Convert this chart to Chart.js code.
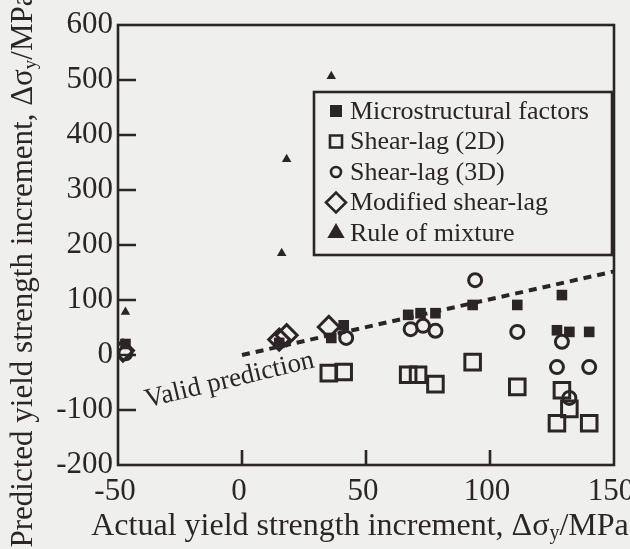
<!DOCTYPE html>
<html>
<head>
<meta charset="utf-8">
<script src="https://cdn.jsdelivr.net/npm/chart.js@4"></script>
<style>
  html, body { margin: 0; padding: 0; background: #efefed; }
  #wrap { width: 630px; height: 549px; }
</style>
</head>
<body>
<div id="wrap"><canvas id="wykres"></canvas></div>
<script>
// values (MPa)
const microX = [-47, 15, 36, 41, 67, 72, 78, 93, 111, 129, 127, 132, 140];
const microY = [20, 22, 31, 54, 73, 76, 76, 91, 91, 109, 45, 42, 42];
const shear2dX = [35, 41, 67, 71, 78, 93, 111, 129, 132, 127, 140];
const shear2dY = [-33, -31, -36, -36, -53, -13, -58, -64, -98, -124, -124];
const shear3dX = [-47, 42, 68, 73, 78, 94, 111, 129, 127, 140, 132];
const shear3dY = [3, 31, 47, 53, 44, 136, 42, 24, -22, -22, -78];
const modX = [-48, 15, 18, 35];
const modY = [8, 28, 36, 51];
const ruleX = [-47, 16, 18, 36];
const ruleY = [78, 185, 356, 507];
const validX = [0, 150];
const validY = [0, 152];

const xTicks = [-50, 0, 50, 100, 150];
const yTicks = [-200, -100, 0, 100, 200, 300, 400, 500, 600];

const ink = '#2b2527';
const serif = '"Liberation Serif", "DejaVu Serif", serif';

const pts = (xs, ys) => xs.map((x, i) => ({ x: x, y: ys[i] }));

// text with a subscript y after the sigma
function drawSubText(ctx, head, sub, tail, size) {
  ctx.font = size + 'px ' + serif;
  const w1 = ctx.measureText(head).width;
  const w3 = ctx.measureText(tail).width;
  ctx.font = Math.round(size * 0.62) + 'px ' + serif;
  const w2 = ctx.measureText(sub).width;
  let x = -(w1 + w2 + w3) / 2;
  ctx.textBaseline = 'alphabetic';
  ctx.textAlign = 'left';
  ctx.font = size + 'px ' + serif;
  ctx.fillText(head, x, 0);
  x += w1;
  ctx.font = Math.round(size * 0.62) + 'px ' + serif;
  ctx.fillText(sub, x, size * 0.12);
  x += w2;
  ctx.font = size + 'px ' + serif;
  ctx.fillText(tail, x, 0);
}

const decor = {
  id: 'decor',
  afterDraw(chart) {
    const ctx = chart.ctx;
    const a = chart.chartArea;
    const sx = chart.scales.x, sy = chart.scales.y;
    ctx.save();
    ctx.strokeStyle = ink;
    ctx.fillStyle = ink;
    ctx.lineWidth = 2.6;
    ctx.strokeRect(a.left, a.top, a.right - a.left, a.bottom - a.top);

    // inward tick marks
    ctx.beginPath();
    yTicks.slice(1, -1).forEach(v => {
      const py = sy.getPixelForValue(v);
      ctx.moveTo(a.left, py); ctx.lineTo(a.left + 18, py);
    });
    xTicks.slice(1, -1).forEach(v => {
      const px = sx.getPixelForValue(v);
      ctx.moveTo(px, a.bottom); ctx.lineTo(px, a.bottom - 15);
    });
    ctx.stroke();

    // axis titles
    ctx.save();
    ctx.translate(360, 535);
    drawSubText(ctx, 'Actual yield strength increment, \u0394\u03c3', 'y', '/MPa', 32);
    ctx.restore();
    ctx.save();
    ctx.translate(32, 270);
    ctx.rotate(-Math.PI / 2);
    drawSubText(ctx, 'Predicted yield strength increment, \u0394\u03c3', 'y', '/MPa', 31);
    ctx.restore();

    // "Valid prediction" label along the line
    ctx.save();
    ctx.translate(sx.getPixelForValue(-5), sy.getPixelForValue(-46));
    ctx.rotate(-13.5 * Math.PI / 180);
    ctx.font = '27px ' + serif;
    ctx.textAlign = 'center';
    ctx.textBaseline = 'middle';
    ctx.fillText('Valid prediction', 0, 0);
    ctx.restore();

    // legend box
    const lx = 314, ly = 92, lw = 298, lh = 163;
    ctx.fillStyle = '#efefed';
    ctx.fillRect(lx, ly, lw, lh);
    ctx.lineWidth = 2.6;
    ctx.strokeRect(lx, ly, lw, lh);
    const rows = [
      { ds: 0, r: 8.5, bw: 0 },
      { ds: 1, r: 8.5, bw: 2.6 },
      { ds: 2, r: 5, bw: 3 },
      { ds: 3, r: 10, bw: 2.4 },
      { ds: 4, r: 10, bw: 0 }
    ];
    rows.forEach((row, i) => {
      const ds = chart.data.datasets[row.ds];
      const cy = 111 + i * 30.5;
      ctx.fillStyle = ds.backgroundColor;
      ctx.strokeStyle = ink;
      Chart.helpers.drawPoint(ctx, { pointStyle: ds.pointStyle, radius: row.r, borderWidth: row.bw, rotation: 0 }, 336, cy);
      ctx.fillStyle = ink;
      ctx.font = '26px ' + serif;
      ctx.textAlign = 'left';
      ctx.textBaseline = 'middle';
      ctx.fillText(ds.label, 350, cy + 1);
    });
    ctx.restore();
  }
};

new Chart(document.getElementById('wykres').getContext('2d'), {
  type: 'scatter',
  data: {
    datasets: [
      {
        label: 'Microstructural factors',
        data: pts(microX, microY),
        pointStyle: 'rect',
        pointRadius: 7.5,
        backgroundColor: ink,
        borderColor: ink,
        borderWidth: 0
      },
      {
        label: 'Shear-lag (2D)',
        data: pts(shear2dX, shear2dY),
        pointStyle: 'rect',
        pointRadius: 11,
        backgroundColor: 'rgba(0,0,0,0)',
        borderColor: ink,
        borderWidth: 3
      },
      {
        label: 'Shear-lag (3D)',
        data: pts(shear3dX, shear3dY),
        pointStyle: 'circle',
        pointRadius: 6.5,
        backgroundColor: 'rgba(0,0,0,0)',
        borderColor: ink,
        borderWidth: 3
      },
      {
        label: 'Modified shear-lag',
        data: pts(modX, modY),
        pointStyle: 'rectRot',
        pointRadius: 10.5,
        backgroundColor: 'rgba(0,0,0,0)',
        borderColor: ink,
        borderWidth: 3
      },
      {
        label: 'Rule of mixture',
        data: pts(ruleX, ruleY),
        pointStyle: 'triangle',
        pointRadius: 5.5,
        backgroundColor: ink,
        borderColor: ink,
        borderWidth: 0
      },
      {
        type: 'line',
        label: 'Valid prediction',
        data: pts(validX, validY),
        borderColor: ink,
        borderWidth: 4,
        borderDash: [8, 6],
        pointRadius: 0,
        fill: false
      }
    ]
  },
  options: {
    responsive: true,
    maintainAspectRatio: false,
    animation: false,
    layout: { padding: { top: 25, right: 16, left: 0, bottom: 0 } },
    plugins: {
      legend: { display: false },
      tooltip: { enabled: false }
    },
    scales: {
      x: {
        type: 'linear',
        min: -50,
        max: 150,
        afterBuildTicks: s => { s.ticks = xTicks.map(v => ({ value: v })); },
        afterFit: s => { s.height = 84; s.paddingLeft = 0; s.paddingRight = 0; },
        grid: { display: false, drawTicks: false },
        border: { display: false },
        ticks: { color: ink, padding: 8, labelOffset: -3, font: { family: serif, size: 31 } }
      },
      y: {
        type: 'linear',
        min: -200,
        max: 600,
        afterBuildTicks: s => { s.ticks = yTicks.map(v => ({ value: v })); },
        afterFit: s => { s.width = 118; s.paddingTop = 0; s.paddingBottom = 0; },
        grid: { display: false, drawTicks: false },
        border: { display: false },
        ticks: { color: ink, padding: 5, font: { family: serif, size: 31 } }
      }
    }
  },
  plugins: [decor]
});
</script>
</body>
</html>
